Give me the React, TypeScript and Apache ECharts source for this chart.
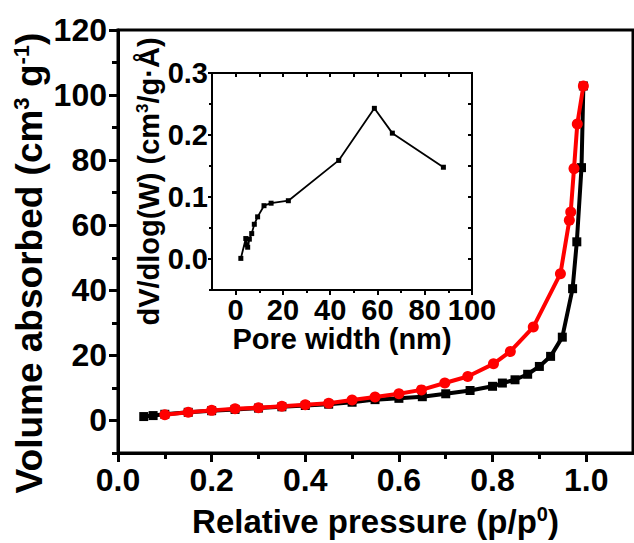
import React, { useEffect, useRef } from "react";
import * as echarts from "echarts";

// Main isotherm: adsorption (black squares)
const adsP = [0.055, 0.075, 0.1, 0.15, 0.2, 0.25, 0.3, 0.35, 0.4, 0.45, 0.5, 0.549, 0.6, 0.65, 0.7, 0.752, 0.8, 0.821, 0.848, 0.875, 0.9, 0.924, 0.949, 0.971, 0.98, 0.99, 0.994];
const adsV = [1.2, 1.5, 1.9, 2.5, 3.0, 3.4, 3.8, 4.2, 4.6, 5.0, 5.6, 6.4, 6.8, 7.3, 8.2, 9.2, 10.5, 11.5, 12.5, 14.2, 16.6, 19.7, 25.6, 40.5, 54.9, 77.7, 102.8];
// Desorption (red circles)
const desP = [0.1, 0.15, 0.2, 0.25, 0.3, 0.35, 0.4, 0.45, 0.5, 0.549, 0.6, 0.648, 0.698, 0.747, 0.802, 0.838, 0.887, 0.945, 0.964, 0.967, 0.974, 0.981, 0.994];
const desV = [1.75, 2.55, 3.1, 3.6, 3.9, 4.4, 4.8, 5.3, 6.3, 7.2, 8.2, 9.4, 11.5, 13.5, 17.4, 21.2, 28.7, 45.1, 61.5, 64.1, 77.4, 91.1, 102.8];
// Inset: pore size distribution
const poreWidth = [2.2, 4.3, 4.7, 5.1, 5.8, 6.8, 7.9, 9.3, 12.0, 15.0, 22.3, 43.6, 58.7, 66.3, 87.9];
const dvdlogw = [0.001, 0.033, 0.023, 0.019, 0.032, 0.041, 0.056, 0.068, 0.086, 0.09, 0.094, 0.159, 0.243, 0.203, 0.148];

// Tick values
const mainXLabels = [0, 0.2, 0.4, 0.6, 0.8, 1.0];
const mainXMinor = [0.1, 0.3, 0.5, 0.7, 0.9];
const mainYLabels = [0, 20, 40, 60, 80, 100, 120];
const mainYMinor = [-10, 10, 30, 50, 70, 90, 110];
const insetXLabels = [0, 20, 40, 60, 80, 100];
const insetXMinor = [10, 30, 50, 70, 90];
const insetYLabels = [0, 0.1, 0.2, 0.3];
const insetYMinor = [-0.05, 0.05, 0.15, 0.25];

const FONT = "Liberation Sans";

export default function App() {
  const ref = useRef<HTMLDivElement>(null);
  useEffect(() => {
    if (!ref.current) return;
    const chart = echarts.init(ref.current, undefined, { renderer: "svg" });
    const lbl = (size: number, margin: number, fmt?: (v: number) => string) => ({
      show: true,
      color: "#000",
      fontFamily: FONT,
      fontWeight: "bold",
      fontSize: size,
      margin,
      formatter: fmt,
    });
    const supRich = (size: number) => ({
      sup: { fontSize: Math.round(size * 0.6), fontFamily: FONT, fontWeight: "bold", color: "#000", verticalAlign: "top", padding: [0, 0, Math.round(size * 0.45), 0] },
    });
    const blankAxis = (gridIndex: number, min: number, max: number, pos: string, ticks: number[], len: number, inside: boolean, w: number) => ({
      type: "value",
      gridIndex,
      min,
      max,
      position: pos,
      axisLine: { show: false, onZero: false },
      splitLine: { show: false },
      axisLabel: { show: false },
      axisTick: { show: true, inside, length: len, lineStyle: { color: "#000", width: w }, customValues: ticks },
    });
    chart.setOption({
      animation: false,
      backgroundColor: "#fff",
      grid: [
        { left: 118, right: 1, top: 30, bottom: 90, show: true, borderColor: "#000", borderWidth: 3 },
        { left: 212, right: 162, top: 73, bottom: 253, show: true, borderColor: "#000", borderWidth: 2 },
      ],
      graphic: [
        {
          type: "text",
          x: 29,
          y: 263,
          rotation: Math.PI / 2,
          style: {
            text: "Volume absorbed (cm{sup|3} g{sup|-1})",
            fill: "#000",
            font: `bold 37px "${FONT}"`,
            align: "center",
            verticalAlign: "middle",
            rich: {
              sup: { fontSize: 22, fontFamily: FONT, fontWeight: "bold", fill: "#000", verticalAlign: "top", padding: [0, 0, 16, 0] },
            },
          },
        },
      ],
      xAxis: [
        {
          type: "value",
          gridIndex: 0,
          min: 0,
          max: 1.1,
          position: "bottom",
          axisLine: { show: true, onZero: false, lineStyle: { color: "#000", width: 3 } },
          splitLine: { show: false },
          axisTick: { show: true, length: 9, lineStyle: { color: "#000", width: 3 }, customValues: mainXLabels },
          axisLabel: { ...lbl(32, 11, (v: number) => v.toFixed(1)), customValues: mainXLabels },
          name: "Relative pressure (p/p{sup|0})",
          nameLocation: "middle",
          nameGap: 51,
          nameTextStyle: { color: "#000", fontFamily: FONT, fontWeight: "bold", fontSize: 33, rich: supRich(33) },
        },
        blankAxis(0, 0, 1.1, "bottom", mainXMinor, 6, false, 3),
        {
          type: "value",
          gridIndex: 1,
          min: -10,
          max: 100,
          position: "bottom",
          axisLine: { show: true, onZero: false, lineStyle: { color: "#000", width: 2 } },
          splitLine: { show: false },
          axisTick: { show: true, length: 5, lineStyle: { color: "#000", width: 2 }, customValues: insetXLabels },
          axisLabel: { ...lbl(29, 5, (v: number) => String(v)), customValues: insetXLabels },
          name: "Pore width (nm)",
          nameLocation: "middle",
          nameGap: 14,
          nameTextStyle: { color: "#000", fontFamily: FONT, fontWeight: "bold", fontSize: 29 },
        },
        blankAxis(1, -10, 100, "bottom", insetXMinor, 3, false, 2),
        blankAxis(1, -10, 100, "top", [...insetXLabels, ...insetXMinor], 4, true, 2),
      ],
      yAxis: [
        {
          type: "value",
          gridIndex: 0,
          min: -10,
          max: 120,
          position: "left",
          axisLine: { show: true, onZero: false, lineStyle: { color: "#000", width: 3 } },
          splitLine: { show: false },
          axisTick: { show: true, length: 9, lineStyle: { color: "#000", width: 3 }, customValues: mainYLabels },
          axisLabel: { ...lbl(32, 11, (v: number) => String(v)), customValues: mainYLabels },
        },
        blankAxis(0, -10, 120, "left", mainYMinor, 6, false, 3),
        {
          type: "value",
          gridIndex: 1,
          min: -0.05,
          max: 0.3,
          position: "left",
          axisLine: { show: true, onZero: false, lineStyle: { color: "#000", width: 2 } },
          splitLine: { show: false },
          axisTick: { show: true, length: 4, lineStyle: { color: "#000", width: 2 }, customValues: insetYLabels },
          axisLabel: { ...lbl(29, 4, (v: number) => v.toFixed(1)), customValues: insetYLabels },
          name: "dV/dlog(W) (cm{sup|3}/g·Å)",
          nameLocation: "middle",
          nameRotate: 90,
          nameGap: 32,
          nameTextStyle: { color: "#000", fontFamily: FONT, fontWeight: "bold", fontSize: 29, rich: supRich(29) },
        },
        blankAxis(1, -0.05, 0.3, "left", insetYMinor, 3, false, 2),
        blankAxis(1, -0.05, 0.3, "right", [...insetYLabels, ...insetYMinor], 4, true, 2),
      ],
      series: [
        {
          type: "line",
          xAxisIndex: 0,
          yAxisIndex: 0,
          data: adsP.map((p, i) => [p, adsV[i]]),
          symbol: "rect",
          symbolSize: 9,
          lineStyle: { color: "#000", width: 4 },
          itemStyle: { color: "#000" },
        },
        {
          type: "line",
          xAxisIndex: 0,
          yAxisIndex: 0,
          data: desP.map((p, i) => [p, desV[i]]),
          symbol: "circle",
          symbolSize: 11,
          lineStyle: { color: "#ff0000", width: 4 },
          itemStyle: { color: "#ff0000" },
        },
        {
          type: "line",
          xAxisIndex: 2,
          yAxisIndex: 2,
          data: poreWidth.map((w, i) => [w, dvdlogw[i]]),
          symbol: "rect",
          symbolSize: 5,
          lineStyle: { color: "#000", width: 1.8 },
          itemStyle: { color: "#000" },
        },
      ],
    });
    return () => chart.dispose();
  }, []);
  return <div ref={ref} style={{ position: "fixed", left: 0, top: 0, width: 634, height: 543 }} />;
}
